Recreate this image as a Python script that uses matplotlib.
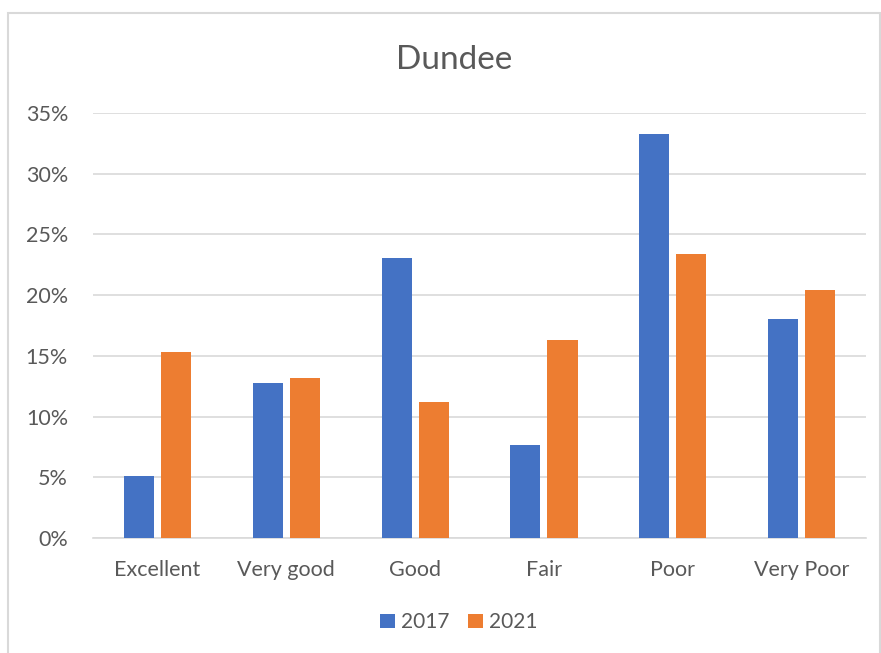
import matplotlib.pyplot as plt
import matplotlib.patches as mpatches
import numpy as np
from matplotlib.ticker import PercentFormatter

# survey ratings for Dundee, share of respondents
categories = ['Excellent', 'Very good', 'Good', 'Fair', 'Poor', 'Very Poor']
share_2017 = [5.1, 12.8, 23.1, 7.7, 33.3, 18.0]
share_2021 = [15.3, 13.2, 11.2, 16.3, 23.4, 20.4]

plt.rcParams['font.family'] = ['Lato', 'DejaVu Sans']
text_grey = '#595959'

fig = plt.figure(figsize=(8.81, 6.53), dpi=100)
ax = fig.add_axes([0.1056, 0.176, 0.8774, 0.651])

x = np.arange(len(categories))
w = 0.233
off = 0.144
ax.bar(x - off, share_2017, w, color='#4472C4', label='2017', zorder=3)
ax.bar(x + off, share_2021, w, color='#ED7D31', label='2021', zorder=3)

ax.set_xlim(-0.5, len(categories) - 0.5)
ax.set_ylim(0, 35)
ax.set_yticks(np.arange(0, 36, 5))
ax.yaxis.set_major_formatter(PercentFormatter(decimals=0))
ax.set_xticks(x)
ax.set_xticklabels(categories)
ax.tick_params(length=0, labelsize=15.5, colors=text_grey)
ax.tick_params(axis='x', pad=16)
ax.tick_params(axis='y', pad=18)
ax.grid(axis='y', color='#D9D9D9', linewidth=1.2, zorder=0)
for s in ['top', 'right', 'left']:
    ax.spines[s].set_visible(False)
ax.spines['bottom'].set_color('#D9D9D9')
ax.spines['bottom'].set_linewidth(1.2)

fig.text(0.515, 0.908, 'Dundee', ha='center', va='center', fontsize=24, color=text_grey)

fig.legend(loc='center', bbox_to_anchor=(0.521, 0.047), ncol=2, frameon=False,
           fontsize=15, labelcolor=text_grey, handlelength=0.7, handleheight=0.7,
           columnspacing=0.9, handletextpad=0.3)

# light frame round the chart
fig.patches.append(mpatches.Rectangle((0.009, -0.01), 0.99, 0.99, transform=fig.transFigure,
                                      fill=False, edgecolor='#D9D9D9', linewidth=1.5))

fig.savefig('out.png', dpi=100)
